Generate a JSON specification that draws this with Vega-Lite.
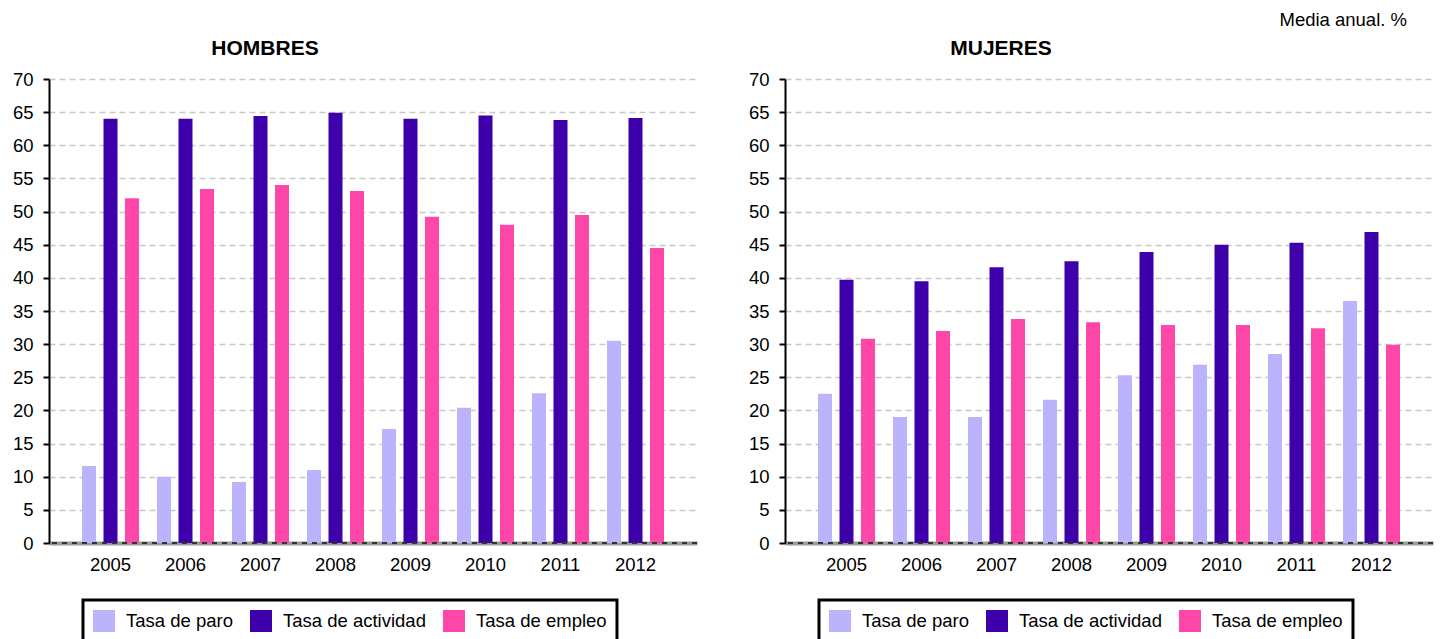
{
  "$schema": "https://vega.github.io/schema/vega-lite/v6.json",
  "padding": {"left": 12, "top": 10, "right": 0, "bottom": 0},
  "background": "white",
  "title": {"text": "Media anual. %", "anchor": "end", "fontSize": 18.5, "fontWeight": "normal", "color": "black", "dx": -27, "offset": 9},
  "data": {"values": [
    {"sexo": "HOMBRES", "anio": "2005", "tasa": "Tasa de paro", "valor": 11.6},
    {"sexo": "HOMBRES", "anio": "2005", "tasa": "Tasa de actividad", "valor": 64.0},
    {"sexo": "HOMBRES", "anio": "2005", "tasa": "Tasa de empleo", "valor": 52.0},
    {"sexo": "HOMBRES", "anio": "2006", "tasa": "Tasa de paro", "valor": 10.0},
    {"sexo": "HOMBRES", "anio": "2006", "tasa": "Tasa de actividad", "valor": 64.0},
    {"sexo": "HOMBRES", "anio": "2006", "tasa": "Tasa de empleo", "valor": 53.4},
    {"sexo": "HOMBRES", "anio": "2007", "tasa": "Tasa de paro", "valor": 9.2},
    {"sexo": "HOMBRES", "anio": "2007", "tasa": "Tasa de actividad", "valor": 64.4},
    {"sexo": "HOMBRES", "anio": "2007", "tasa": "Tasa de empleo", "valor": 54.0},
    {"sexo": "HOMBRES", "anio": "2008", "tasa": "Tasa de paro", "valor": 11.0},
    {"sexo": "HOMBRES", "anio": "2008", "tasa": "Tasa de actividad", "valor": 64.9},
    {"sexo": "HOMBRES", "anio": "2008", "tasa": "Tasa de empleo", "valor": 53.1},
    {"sexo": "HOMBRES", "anio": "2009", "tasa": "Tasa de paro", "valor": 17.2},
    {"sexo": "HOMBRES", "anio": "2009", "tasa": "Tasa de actividad", "valor": 64.0},
    {"sexo": "HOMBRES", "anio": "2009", "tasa": "Tasa de empleo", "valor": 49.2},
    {"sexo": "HOMBRES", "anio": "2010", "tasa": "Tasa de paro", "valor": 20.4},
    {"sexo": "HOMBRES", "anio": "2010", "tasa": "Tasa de actividad", "valor": 64.5},
    {"sexo": "HOMBRES", "anio": "2010", "tasa": "Tasa de empleo", "valor": 48.0},
    {"sexo": "HOMBRES", "anio": "2011", "tasa": "Tasa de paro", "valor": 22.6},
    {"sexo": "HOMBRES", "anio": "2011", "tasa": "Tasa de actividad", "valor": 63.8},
    {"sexo": "HOMBRES", "anio": "2011", "tasa": "Tasa de empleo", "valor": 49.5},
    {"sexo": "HOMBRES", "anio": "2012", "tasa": "Tasa de paro", "valor": 30.5},
    {"sexo": "HOMBRES", "anio": "2012", "tasa": "Tasa de actividad", "valor": 64.1},
    {"sexo": "HOMBRES", "anio": "2012", "tasa": "Tasa de empleo", "valor": 44.5},
    {"sexo": "MUJERES", "anio": "2005", "tasa": "Tasa de paro", "valor": 22.5},
    {"sexo": "MUJERES", "anio": "2005", "tasa": "Tasa de actividad", "valor": 39.7},
    {"sexo": "MUJERES", "anio": "2005", "tasa": "Tasa de empleo", "valor": 30.8},
    {"sexo": "MUJERES", "anio": "2006", "tasa": "Tasa de paro", "valor": 19.0},
    {"sexo": "MUJERES", "anio": "2006", "tasa": "Tasa de actividad", "valor": 39.5},
    {"sexo": "MUJERES", "anio": "2006", "tasa": "Tasa de empleo", "valor": 32.0},
    {"sexo": "MUJERES", "anio": "2007", "tasa": "Tasa de paro", "valor": 19.0},
    {"sexo": "MUJERES", "anio": "2007", "tasa": "Tasa de actividad", "valor": 41.6},
    {"sexo": "MUJERES", "anio": "2007", "tasa": "Tasa de empleo", "valor": 33.8},
    {"sexo": "MUJERES", "anio": "2008", "tasa": "Tasa de paro", "valor": 21.6},
    {"sexo": "MUJERES", "anio": "2008", "tasa": "Tasa de actividad", "valor": 42.5},
    {"sexo": "MUJERES", "anio": "2008", "tasa": "Tasa de empleo", "valor": 33.3},
    {"sexo": "MUJERES", "anio": "2009", "tasa": "Tasa de paro", "valor": 25.3},
    {"sexo": "MUJERES", "anio": "2009", "tasa": "Tasa de actividad", "valor": 43.9},
    {"sexo": "MUJERES", "anio": "2009", "tasa": "Tasa de empleo", "valor": 32.9},
    {"sexo": "MUJERES", "anio": "2010", "tasa": "Tasa de paro", "valor": 26.9},
    {"sexo": "MUJERES", "anio": "2010", "tasa": "Tasa de actividad", "valor": 45.0},
    {"sexo": "MUJERES", "anio": "2010", "tasa": "Tasa de empleo", "valor": 32.9},
    {"sexo": "MUJERES", "anio": "2011", "tasa": "Tasa de paro", "valor": 28.5},
    {"sexo": "MUJERES", "anio": "2011", "tasa": "Tasa de actividad", "valor": 45.3},
    {"sexo": "MUJERES", "anio": "2011", "tasa": "Tasa de empleo", "valor": 32.4},
    {"sexo": "MUJERES", "anio": "2012", "tasa": "Tasa de paro", "valor": 36.5},
    {"sexo": "MUJERES", "anio": "2012", "tasa": "Tasa de actividad", "valor": 46.9},
    {"sexo": "MUJERES", "anio": "2012", "tasa": "Tasa de empleo", "valor": 29.9}
  ]},
  "spacing": 50,
  "resolve": {"scale": {"color": "independent"}},
  "hconcat": [
    {
      "width": 648,
      "height": 464,
      "title": {"text": "HOMBRES", "dx": -108},
      "transform": [{"filter": "datum.sexo === 'HOMBRES'"}],
      "layer": [
        {
          "mark": {"type": "bar", "width": 14},
          "encoding": {
            "x": {"field": "anio", "type": "nominal", "scale": {"paddingInner": 0, "paddingOuter": 0.32}, "axis": {"title": null}},
            "xOffset": {"field": "tasa", "type": "nominal", "scale": {"domain": ["Tasa de paro", "Tasa de actividad", "Tasa de empleo"], "paddingInner": 0.349, "paddingOuter": 0.419}},
            "y": {"field": "valor", "type": "quantitative", "scale": {"domain": [0, 70]}, "axis": {"title": null, "values": [0,5,10,15,20,25,30,35,40,45,50,55,60,65,70]}},
            "color": {"field": "tasa", "type": "nominal", "scale": {"domain": ["Tasa de paro", "Tasa de actividad", "Tasa de empleo"], "range": ["#BBB3FC", "#3D00AB", "#FF47AA"]}, "legend": {"title": null, "orient": "none", "legendX": 34, "legendY": 521, "direction": "horizontal"}}
          }
        },
        {
          "mark": {"type": "rule", "color": "#333333", "strokeWidth": 2, "strokeDash": [5, 5]},
          "encoding": {"y": {"datum": 0, "type": "quantitative", "axis": {"title": null, "values": [0,5,10,15,20,25,30,35,40,45,50,55,60,65,70]}}}
        }
      ]
    },
    {
      "width": 648,
      "height": 464,
      "title": {"text": "MUJERES", "dx": -108},
      "transform": [{"filter": "datum.sexo === 'MUJERES'"}],
      "layer": [
        {
          "mark": {"type": "bar", "width": 14},
          "encoding": {
            "x": {"field": "anio", "type": "nominal", "scale": {"paddingInner": 0, "paddingOuter": 0.32}, "axis": {"title": null}},
            "xOffset": {"field": "tasa", "type": "nominal", "scale": {"domain": ["Tasa de paro", "Tasa de actividad", "Tasa de empleo"], "paddingInner": 0.349, "paddingOuter": 0.419}},
            "y": {"field": "valor", "type": "quantitative", "scale": {"domain": [0, 70]}, "axis": {"title": null, "values": [0,5,10,15,20,25,30,35,40,45,50,55,60,65,70]}},
            "color": {"field": "tasa", "type": "nominal", "scale": {"domain": ["Tasa de paro", "Tasa de actividad", "Tasa de empleo"], "range": ["#BBB3FC", "#3D00AB", "#FF47AA"]}, "legend": {"title": null, "orient": "none", "legendX": 34, "legendY": 521, "direction": "horizontal"}}
          }
        },
        {
          "mark": {"type": "rule", "color": "#333333", "strokeWidth": 2, "strokeDash": [5, 5]},
          "encoding": {"y": {"datum": 0, "type": "quantitative", "axis": {"title": null, "values": [0,5,10,15,20,25,30,35,40,45,50,55,60,65,70]}}}
        }
      ]
    }
  ],
  "config": {
    "font": "Liberation Sans",
    "view": {"stroke": null},
    "title": {"fontSize": 21, "fontWeight": "bold", "color": "black", "anchor": "middle", "offset": 11},
    "axisX": {"domainColor": "#999999", "domainWidth": 4, "ticks": false, "labelAngle": 0, "labelFontSize": 18.5, "labelColor": "black", "labelPadding": 12, "grid": false},
    "axisY": {"domainColor": "black", "domainWidth": 2, "tickColor": "black", "tickWidth": 2, "tickSize": 6, "labelFontSize": 18.5, "labelColor": "black", "labelPadding": 10, "labelOverlap": false, "grid": true, "gridColor": "#c8c8c8", "gridDash": [6, 4], "gridWidth": 1.5},
    "legend": {"strokeColor": "black", "strokeWidth": 3, "padding": 10, "symbolType": "square", "symbolSize": 484, "symbolStrokeWidth": 0, "symbolOpacity": 1, "labelFontSize": 18.5, "labelColor": "black", "labelOffset": 11, "columnPadding": 17, "labelLimit": 300}
  }
}
